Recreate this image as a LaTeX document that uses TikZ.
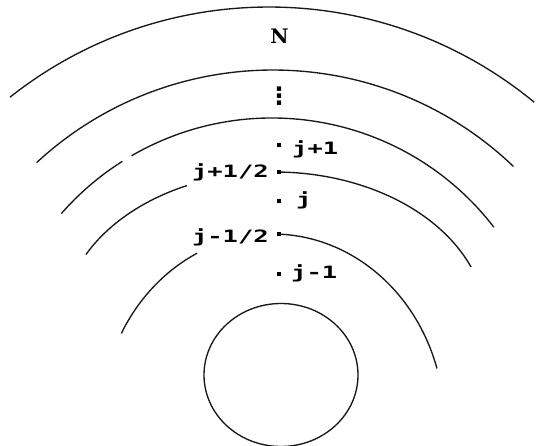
\documentclass[tikz,border=0pt]{standalone}
\usepackage{fontspec}
\newfontfamily\pixfont[FakeStretch=1.5]{DejaVu Sans Mono}
\newfontfamily\topfont{DejaVu Serif}
\newfontfamily\symfont{DejaVu Sans}
\usetikzlibrary{calc}

\begin{document}
\begin{tikzpicture}[x=1pt,y=1pt,line join=round,
    shell/.style={line width=1.35pt,black!90},
    cell/.style={rectangle,fill=black,inner sep=0pt,minimum size=4pt},
    lbl/.style={inner sep=0pt,font=\pixfont\bfseries\fontsize{17}{17}\selectfont}]
  \useasboundingbox (0,0) rectangle (536,446);
  % centres of the shells
  \coordinate (O1) at (269,22);
  \coordinate (O2) at (273,28);
  \coordinate (O3) at (272,48);
  \coordinate (O4) at (274.5,122);
  \coordinate (O5) at (272.5,22);
  \coordinate (core) at (281,71);
  % outer shells
  \draw[shell] ($(O1)+(128.4:417)$) arc[start angle=128.4,end angle=50.5,radius=417];
  \draw[shell] ($(O2)+(132.8:348)$) arc[start angle=132.8,end angle=46.3,radius=348];
  \draw[shell] ($(O3)+(138.8:280)$) arc[start angle=138.8,end angle=122.3,radius=280];
  \draw[shell] ($(O3)+(120.1:280)$) arc[start angle=120.1,end angle=37.6,radius=280];
  % cell points
  \node[cell] (jp1) at (279,301) {};
  \node[cell] (jph) at ($(O4)+(88.8:212 and 152)$) {};
  \node[cell] (j0) at (279,245) {};
  \node[cell] (jmh) at ($(O5)+(87.8:172 and 190)$) {};
  \node[cell] (jm1) at (279,172) {};
  % interface shells
  \draw[shell] (jph.center) arc[start angle=88.8,end angle=22,x radius=212,y radius=152];
  \draw[shell] ($(O4)+(114.4:212 and 152)$) arc[start angle=114.4,end angle=152.8,x radius=212,y radius=152];
  \draw[shell] (jmh.center) arc[start angle=87.8,end angle=17,x radius=172,y radius=190];
  \draw[shell] ($(O5)+(116:172 and 190)$) arc[start angle=116,end angle=151.5,x radius=172,y radius=190];
  % core
  \draw[shell] (core) ellipse[x radius=77,y radius=71.5];
  % labels
  \node[font=\topfont\bfseries\fontsize{20}{20}\selectfont,inner sep=0pt] (tN) at (279.5,410) {N};
  \node[font=\symfont\bfseries\fontsize{24}{24}\selectfont,inner sep=0pt] (tdots) at (279,350) {⋮};
  \node[lbl,anchor=base west] (tjp1) at (292,291) {j+1};
  \node[lbl,anchor=base east] (tjph) at (269,268) {j+1/2};
  \node[lbl,anchor=base west] (tj0) at (296,240) {j};
  \node[lbl,anchor=base east] (tjmh) at (269,203) {j-1/2};
  \node[lbl,anchor=base west] (tjm1) at (291,167) {j-1};
\end{tikzpicture}
\end{document}
